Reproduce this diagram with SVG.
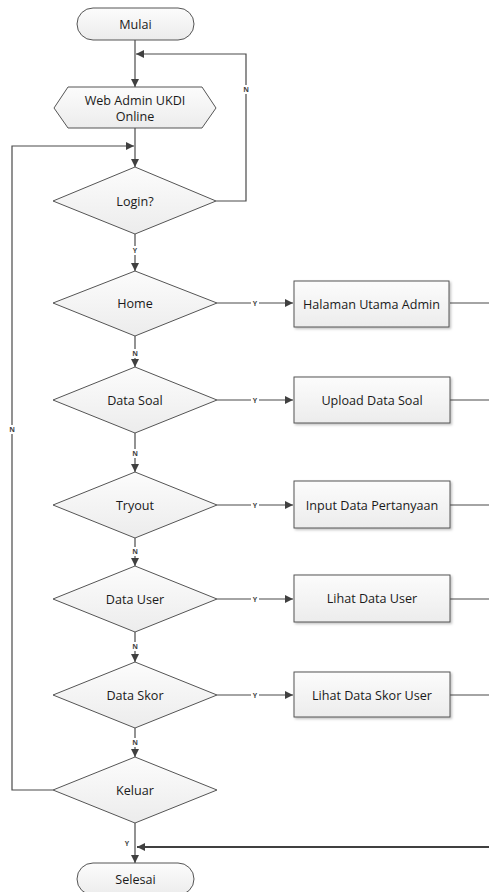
<svg xmlns="http://www.w3.org/2000/svg" width="489" height="892" viewBox="0 0 489 892">
  <defs>
    <linearGradient id="fillGrad" x1="0" y1="0" x2="0" y2="1">
      <stop offset="0" stop-color="#fcfcfc"/>
      <stop offset="1" stop-color="#ececec"/>
    </linearGradient>
    <marker id="arrow" viewBox="0 0 10 10" refX="10" refY="5" markerWidth="8" markerHeight="8" markerUnits="userSpaceOnUse" orient="auto">
      <path d="M0,0 L10,5 L0,10 z" fill="#404040"/>
    </marker>
    <filter id="shadow" x="-10%" y="-10%" width="130%" height="140%">
      <feDropShadow dx="1.5" dy="1.5" stdDeviation="0.8" flood-color="#000" flood-opacity="0.25"/>
    </filter>
  </defs>
  <style>
    .shape { fill: url(#fillGrad); stroke: #555; stroke-width: 1; }
    .box { fill: url(#fillGrad); stroke: #555; stroke-width: 1; filter: url(#shadow); }
    .label { font-family: "Open Sans", "Noto Sans", sans-serif; font-size: 12.6px; fill: #1a1a1a; text-anchor: middle; dominant-baseline: central; }
    .yn { font-family: "Open Sans", "Noto Sans", sans-serif; font-size: 7px; font-weight: bold; fill: #444; text-anchor: middle; dominant-baseline: central; }
    .edge { fill: none; stroke: #4a4a4a; stroke-width: 1.2; }
    .thick { fill: none; stroke: #404040; stroke-width: 2; }
    .bg { fill: #fff; }
  </style>
  <rect width="489" height="892" fill="#fff"/>

  <!-- connectors -->
  <g id="connectors">
    <!-- start to web admin -->
    <path class="edge" d="M135,40 V87" marker-end="url(#arrow)"/>
    <!-- web admin to login -->
    <path class="edge" d="M135,128 V167" marker-end="url(#arrow)"/>
    <!-- login N loop back -->
    <path class="edge" d="M216,201 H246 V54 H136" marker-end="url(#arrow)"/>
    <rect class="bg" x="242" y="85" width="8" height="9"/>
    <text class="yn" x="246" y="89.5">N</text>
    <!-- login Y to home -->
    <path class="edge" d="M135,234 V271" marker-end="url(#arrow)"/>
    <rect class="bg" x="131" y="246" width="8" height="9"/>
    <text class="yn" x="135" y="250.5">Y</text>

    <!-- decision chain (N) -->
    <path class="edge" d="M135,336 V367" marker-end="url(#arrow)"/>
    <rect class="bg" x="131" y="349" width="8" height="9"/>
    <text class="yn" x="135" y="353.5">N</text>
    <path class="edge" d="M135,433 V472" marker-end="url(#arrow)"/>
    <rect class="bg" x="131" y="449" width="8" height="9"/>
    <text class="yn" x="135" y="453.5">N</text>
    <path class="edge" d="M135,538 V566" marker-end="url(#arrow)"/>
    <rect class="bg" x="131" y="547" width="8" height="9"/>
    <text class="yn" x="135" y="551.5">N</text>
    <path class="edge" d="M135,632 V662" marker-end="url(#arrow)"/>
    <rect class="bg" x="131" y="642" width="8" height="9"/>
    <text class="yn" x="135" y="646.5">N</text>
    <path class="edge" d="M135,728 V757" marker-end="url(#arrow)"/>
    <rect class="bg" x="131" y="738" width="8" height="9"/>
    <text class="yn" x="135" y="742.5">N</text>

    <!-- Y branches to process boxes -->
    <path class="edge" d="M217,303 H293" marker-end="url(#arrow)"/>
    <rect class="bg" x="251" y="299" width="8" height="9"/>
    <text class="yn" x="255" y="303.5">Y</text>
    <path class="edge" d="M217,400 H293" marker-end="url(#arrow)"/>
    <rect class="bg" x="251" y="396" width="8" height="9"/>
    <text class="yn" x="255" y="400.5">Y</text>
    <path class="edge" d="M217,505 H293" marker-end="url(#arrow)"/>
    <rect class="bg" x="251" y="501" width="8" height="9"/>
    <text class="yn" x="255" y="505.5">Y</text>
    <path class="edge" d="M217,599 H293" marker-end="url(#arrow)"/>
    <rect class="bg" x="251" y="595" width="8" height="9"/>
    <text class="yn" x="255" y="599.5">Y</text>
    <path class="edge" d="M217,695 H293" marker-end="url(#arrow)"/>
    <rect class="bg" x="251" y="691" width="8" height="9"/>
    <text class="yn" x="255" y="695.5">Y</text>

    <!-- process boxes out to the right -->
    <path class="edge" d="M450,303 H489"/>
    <path class="edge" d="M450,400 H489"/>
    <path class="edge" d="M450,505 H489"/>
    <path class="edge" d="M450,599 H489"/>
    <path class="edge" d="M450,695 H489"/>

    <!-- keluar N loop back to login -->
    <path class="edge" d="M53,790 H12 V146 H134" marker-end="url(#arrow)"/>
    <rect class="bg" x="8" y="425" width="8" height="9"/>
    <text class="yn" x="12" y="429.5">N</text>

    <!-- keluar Y to selesai -->
    <path class="edge" d="M135,823 V863" marker-end="url(#arrow)"/>
    <text class="yn" x="127" y="843.5">Y</text>
    <!-- return from processes -->
    <path class="thick" d="M489,847 H137" marker-end="url(#arrow)"/>
  </g>

  <!-- nodes -->
  <g id="mulai">
    <rect class="shape" x="77" y="8" width="117" height="32" rx="16" ry="16"/>
    <text class="label" x="135.5" y="24">Mulai</text>
  </g>
  <g id="web-admin">
    <polygon class="shape" points="54,108 68,87 202,87 216,108 202,128 68,128"/>
    <text class="label" x="135" y="100">Web Admin UKDI</text>
    <text class="label" x="135" y="116">Online</text>
  </g>
  <g id="login">
    <polygon class="shape" points="135,167 216,201 135,234 53,201"/>
    <text class="label" x="135" y="201">Login?</text>
  </g>
  <g id="home">
    <polygon class="shape" points="135,271 217,303 135,336 53,303"/>
    <text class="label" x="135" y="303">Home</text>
  </g>
  <g id="halaman-utama">
    <rect class="box" x="294" y="281" width="155" height="46"/>
    <text class="label" x="371.5" y="304">Halaman Utama Admin</text>
  </g>
  <g id="data-soal">
    <polygon class="shape" points="135,367 217,400 135,433 53,400"/>
    <text class="label" x="135" y="400">Data Soal</text>
  </g>
  <g id="upload-soal">
    <rect class="box" x="294" y="377" width="156" height="46"/>
    <text class="label" x="372" y="400">Upload Data Soal</text>
  </g>
  <g id="tryout">
    <polygon class="shape" points="135,472 217,505 135,538 53,505"/>
    <text class="label" x="135" y="505">Tryout</text>
  </g>
  <g id="input-pertanyaan">
    <rect class="box" x="294" y="481" width="156" height="47"/>
    <text class="label" x="372" y="505">Input Data Pertanyaan</text>
  </g>
  <g id="data-user">
    <polygon class="shape" points="135,566 217,599 135,632 53,599"/>
    <text class="label" x="135" y="599">Data User</text>
  </g>
  <g id="lihat-user">
    <rect class="box" x="294" y="575" width="156" height="47"/>
    <text class="label" x="372" y="598.5">Lihat Data User</text>
  </g>
  <g id="data-skor">
    <polygon class="shape" points="135,662 217,695 135,728 53,695"/>
    <text class="label" x="135" y="695">Data Skor</text>
  </g>
  <g id="lihat-skor">
    <rect class="box" x="294" y="672" width="156" height="45"/>
    <text class="label" x="372" y="695">Lihat Data Skor User</text>
  </g>
  <g id="keluar">
    <polygon class="shape" points="135,757 217,790 135,823 53,790"/>
    <text class="label" x="135" y="790">Keluar</text>
  </g>
  <g id="selesai">
    <rect class="shape" x="77" y="863" width="117" height="32" rx="16" ry="16"/>
    <text class="label" x="135.5" y="879">Selesai</text>
  </g>
</svg>
